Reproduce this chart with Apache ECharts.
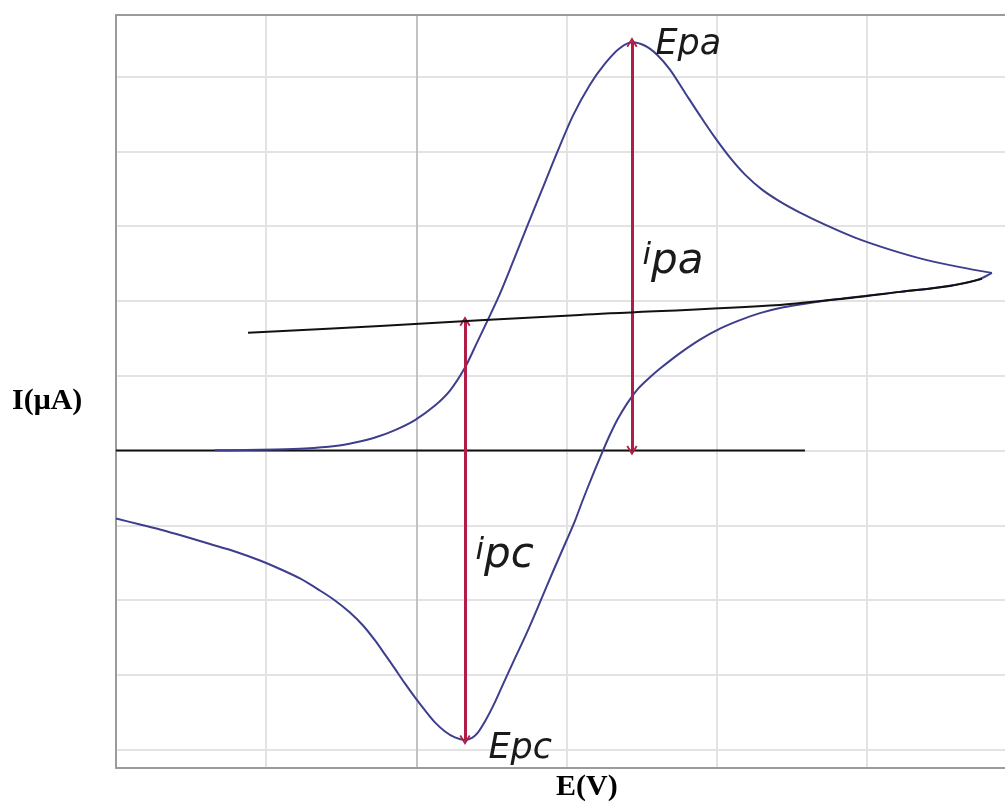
<!DOCTYPE html>
<html><head><meta charset="utf-8">
<script src="https://cdn.jsdelivr.net/npm/echarts@6/dist/echarts.min.js"></script>
<style>html,body{margin:0;padding:0;background:#fff}#c{width:1005px;height:804px}</style>
</head><body><div id="c"></div>
<script>
// Forward (anodic) scan
const E_FWD = [0.659,0.859,1.059,1.259,1.458,1.592,1.725,1.858,1.991,2.124,2.224,2.324,2.404,2.477,2.557,2.644,2.737,2.837,2.937,3.043,3.156,3.256,3.35,3.436,3.523,3.603,3.689,3.789,3.889,3.989,4.089,4.189,4.302,4.422,4.555,4.721,4.921,5.154,5.387,5.62,5.833];
const I_FWD = [0.003,0.007,0.013,0.027,0.06,0.107,0.174,0.274,0.408,0.602,0.802,1.11,1.444,1.751,2.099,2.527,2.995,3.489,3.984,4.479,4.893,5.174,5.374,5.461,5.414,5.294,5.094,4.786,4.479,4.184,3.917,3.69,3.489,3.329,3.182,3.021,2.848,2.687,2.553,2.453,2.376];
// Reverse (cathodic) scan
const E_REV = [5.833,5.753,5.62,5.421,5.221,4.954,4.755,4.555,4.422,4.288,4.155,4.022,3.889,3.756,3.623,3.543,3.469,3.403,3.343,3.29,3.243,3.176,3.11,3.057,3.003,2.91,2.823,2.737,2.644,2.577,2.51,2.457,2.411,2.371,2.324,2.257,2.191,2.124,2.058,1.991,1.924,1.858,1.791,1.725,1.645,1.558,1.458,1.358,1.225,1.092,0.959,0.792,0.626,0.459,0.293,0.147,0];
const I_REV = [2.376,2.295,2.226,2.166,2.122,2.061,2.012,1.952,1.905,1.838,1.745,1.631,1.484,1.303,1.096,0.956,0.809,0.628,0.428,0.214,0,-0.321,-0.655,-0.936,-1.19,-1.618,-2.032,-2.433,-2.834,-3.128,-3.422,-3.623,-3.77,-3.844,-3.87,-3.837,-3.757,-3.636,-3.476,-3.302,-3.115,-2.921,-2.727,-2.54,-2.34,-2.166,-2.005,-1.872,-1.711,-1.584,-1.471,-1.35,-1.25,-1.15,-1.056,-0.983,-0.909];
// Extrapolated baselines
const E_TAN = [0.879,1.758,3.09,4.422,4.888,5.221,5.554,5.767];
const I_TAN = [1.574,1.667,1.814,1.948,2.041,2.122,2.202,2.296];
const E_BASE = [0, 4.588];
const I_BASE = [0, 0];
// Axes / grid
const X_MIN = 0, X_MAX = 5.92, X_STEP = 1;
const Y_MIN = -4.242, Y_MAX = 5.825;
const Y_GRID = [-4,-3,-2,-1,0,1,2,3,4,5];
const X_TITLE = 'E(V)';
const Y_TITLE = 'I(μA)';

const zip = (a, b) => a.map((v, i) => [v, b[i]]);
const pk = I_FWD.indexOf(Math.max(...I_FWD));
const mn = I_REV.indexOf(Math.min(...I_REV));
function interp(xs, ys, x) {
  for (let i = 0; i < xs.length - 1; i++) {
    if (x >= xs[i] && x <= xs[i+1]) return ys[i] + (ys[i+1]-ys[i])*(x-xs[i])/(xs[i+1]-xs[i]);
  }
  return ys[0];
}
const tanAtMin = interp(E_TAN, I_TAN, E_REV[mn]);
const baseAtPeak = 0;

const BLUE = '#3d3f8e';
const RED = '#b01e47';
const GRID_C = '#e3e3e3';
const arrowPath = 'path://M5,0 L10,9 L8.6,10 L5,3.5 L1.4,10 L0,9 Z';
const txtFont = {fontFamily: 'DejaVu Sans', fontStyle: 'italic', color: '#1a1a1a', opacity: 1};

const chart = echarts.init(document.getElementById('c'), null, {renderer: 'canvas'});
chart.setOption({
  animation: false,
  backgroundColor: '#fff',
  grid: {left: 116, right: 0, top: 15, bottom: 36.3, containLabel: false},
  xAxis: [{
    type: 'value', min: X_MIN, max: X_MAX, interval: X_STEP, position: 'bottom',
    axisLine: {show: true, onZero: false, lineStyle: {color: '#9b9b9b', width: 2}},
    axisTick: {show: false}, axisLabel: {show: false},
    splitLine: {show: true, showMaxLine: false, lineStyle: {color: [GRID_C, GRID_C, '#c2c2c2', GRID_C, GRID_C, GRID_C, GRID_C], width: 2}}
  }, {
    type: 'value', min: X_MIN, max: X_MAX, interval: X_STEP, position: 'top',
    axisLine: {show: true, onZero: false, lineStyle: {color: '#9b9b9b', width: 2}},
    axisTick: {show: false}, axisLabel: {show: false}, splitLine: {show: false}
  }],
  yAxis: {
    type: 'value', min: Y_MIN, max: Y_MAX,
    axisLine: {show: true, onZero: false, lineStyle: {color: '#9b9b9b', width: 2}},
    axisTick: {show: false, customValues: Y_GRID},
    axisLabel: {show: false, customValues: Y_GRID},
    splitLine: {show: true, lineStyle: {color: GRID_C, width: 2}}
  },
  graphic: [
    {type: 'text', left: 12, top: 386, style: {text: Y_TITLE, font: 'bold 30px "Liberation Serif"', fill: '#000'}},
    {type: 'text', left: 556, top: 772, style: {text: X_TITLE, font: 'bold 30px "Liberation Serif"', fill: '#000'}}
  ],
  series: [
    {type: 'line', data: zip(E_BASE, I_BASE), showSymbol: false, lineStyle: {color: '#111', width: 2}, z: 3, silent: true},
    {type: 'line', data: zip(E_FWD, I_FWD), showSymbol: false, smooth: 0.3, lineStyle: {color: BLUE, width: 2, join: 'round'}, z: 4, silent: true},
    {type: 'line', data: zip(E_REV, I_REV), showSymbol: false, smooth: 0.3, lineStyle: {color: BLUE, width: 2, join: 'round'}, z: 4, silent: true},
    {type: 'line', data: zip(E_TAN, I_TAN), showSymbol: false, smooth: 0.3, lineStyle: {color: '#111', width: 2, join: 'round'}, z: 5, silent: true},
    {type: 'line', data: [], silent: true, z: 6,
      markLine: {
        silent: true, symbol: [arrowPath, arrowPath], symbolSize: [11, 10],
        label: {show: false},
        lineStyle: {color: RED, width: 3, type: 'solid'},
        emphasis: {disabled: true},
        data: [
          [{coord: [E_FWD[pk], I_FWD[pk]]}, {coord: [E_FWD[pk], baseAtPeak]}],
          [{coord: [E_REV[mn], tanAtMin]}, {coord: [E_REV[mn], I_REV[mn]]}]
        ]
      }
    },
    {type: 'scatter', symbolSize: 1, itemStyle: {color: 'rgba(0,0,0,0)', opacity: 1}, silent: true, z: 7,
      label: {show: true, align: 'left', verticalAlign: 'middle', fontSize: 35, ...txtFont,
        rich: {i: {fontSize: 31, ...txtFont, verticalAlign: 'top'}, t: {fontSize: 42, ...txtFont}}},
      data: [
        {value: [E_FWD[pk], I_FWD[pk]], label: {formatter: 'Epa', position: [24, 3]}},
        {value: [E_REV[mn], I_REV[mn]], label: {formatter: 'Epc', position: [24, 10]}},
        {value: [E_FWD[pk], (I_FWD[pk] + baseAtPeak) / 2], label: {formatter: '{i|i}{t|pa}', position: [11, 16]}},
        {value: [E_REV[mn], (I_REV[mn] + tanAtMin) / 2], label: {formatter: '{i|i}{t|pc}', position: [11, 26]}}
      ]
    }
  ]
});
</script>
</body></html>
